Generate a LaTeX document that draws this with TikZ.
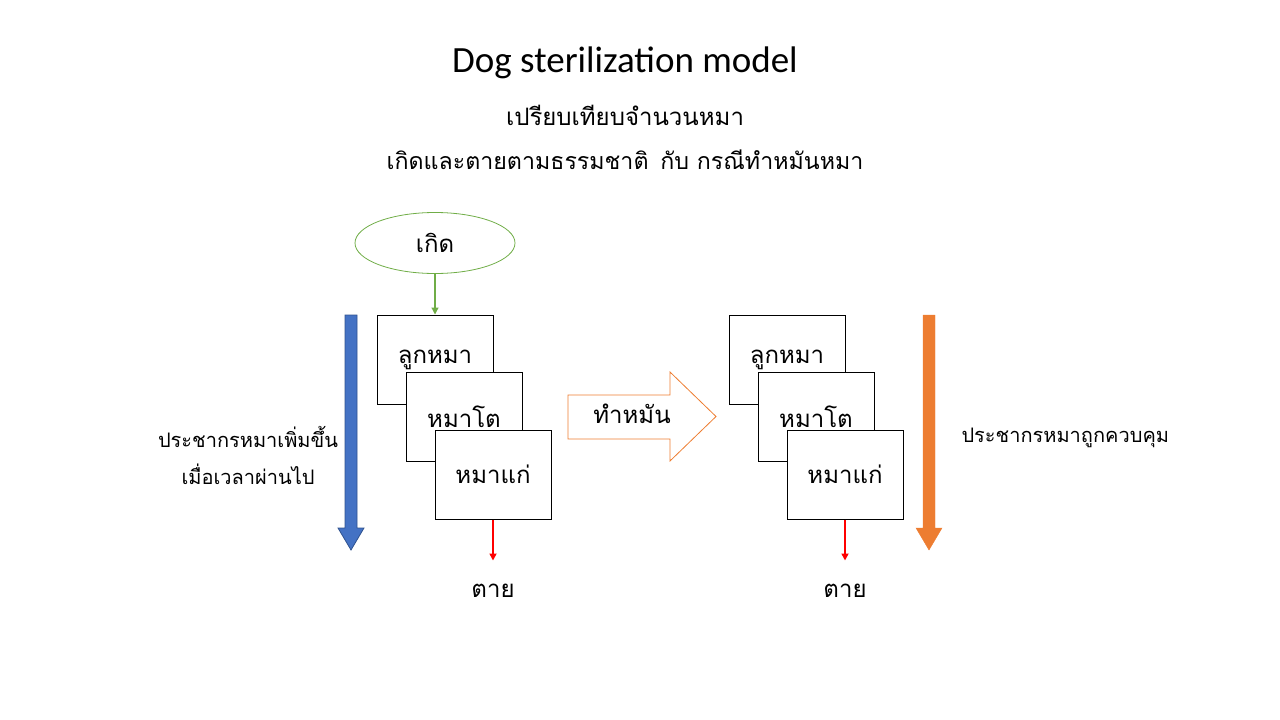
\documentclass[tikz,border=0pt]{standalone}
\usepackage{fontspec}
\setmainfont{Carlito}
\newfontfamily\thai[Script=Thai]{Loma}
\usetikzlibrary{positioning, arrows.meta, shapes.geometric}
\definecolor{birthgreen}{HTML}{70AD47}
\definecolor{popblue}{HTML}{4472C4}
\definecolor{popblueline}{HTML}{2F528F}
\definecolor{poporange}{HTML}{ED7D31}

\begin{document}
\begin{tikzpicture}[x=1pt, y=-1pt, node distance=57.5pt and 29pt, on grid,
	stage/.style={draw, line width=1pt, fill=white, minimum width=116pt, minimum height=89pt, font=\thai\fontsize{24}{28}\selectfont},
	thaitext/.style={font=\thai\fontsize{24}{30}\selectfont, align=center},
	sidetext/.style={font=\thai\fontsize{20}{37}\selectfont, align=center},
	dieline/.style={->, >={Triangle[width=7pt,length=7pt]}, red, line width=1.6pt}]
	\useasboundingbox (0,0) rectangle (1280,720);
	
	% title
	\node (title) at (625,63) {\fontsize{37}{44}\selectfont Dog sterilization model};
	\node[thaitext] (sub1) at (625,115) {เปรียบเทียบจำนวนหมา};
	\node[thaitext] (sub2) at (625,160) {\fontsize{23.2}{30}\selectfont เกิดและตายตามธรรมชาติ\hspace{4pt} กับ กรณีทำหมันหมา};
	
	% natural
	\node[ellipse, draw=birthgreen, line width=0.8pt, minimum width=160pt, minimum height=61pt, thaitext] (birth) at (435,243) {เกิด};
	\node[stage] (pupL) at (435,359.5) {ลูกหมา};
	\node[stage] (adultL) [below right=of pupL] {หมาโต};
	\node[stage] (oldL) [below right=of adultL] {หมาแก่};
	\coordinate[below=41pt of oldL.south] (endL);
	\node[thaitext] (dieL) [below=20pt of endL] {ตาย};
	\path[->, >={Triangle[width=7pt,length=7pt]}, birthgreen, line width=1.2pt]
	(birth) edge (pupL);
	\draw[dieline] (oldL.south) -- (endL);
	
	% sterilized
	\node[stage] (pupR) at (787,359.5) {ลูกหมา};
	\node[stage] (adultR) [below right=of pupR] {หมาโต};
	\node[stage] (oldR) [below right=of adultR] {หมาแก่};
	\coordinate[below=41pt of oldR.south] (endR);
	\node[thaitext] (dieR) [below=20pt of endR] {ตาย};
	\draw[dieline] (oldR.south) -- (endR);
	
	% big arrows
	\draw[popblueline, fill=popblue, line width=0.8pt] (345,315) -- (357,315) -- (357,528) -- (364,528) -- (351,550) -- (338,528) -- (345,528) -- cycle;
	\draw[poporange, fill=poporange] (923,315) -- (935,315) -- (935,528) -- (942,528) -- (929,550) -- (916,528) -- (923,528) -- cycle;
	\draw[poporange, line width=0.8pt] (568,395) -- (670,395) -- (670,372) -- (716,416.5) -- (670,461) -- (670,439) -- (568,439) -- cycle;
	\node[thaitext] (neuter) at (632,414) {ทำหมัน};
	
	\node[sidetext] (growth) at (248,455) {ประชากรหมาเพิ่มขึ้น\\เมื่อเวลาผ่านไป};
	\node[sidetext, anchor=west] (control) at (958,438) {ประชากรหมาถูกควบคุม};
\end{tikzpicture}
\end{document}
